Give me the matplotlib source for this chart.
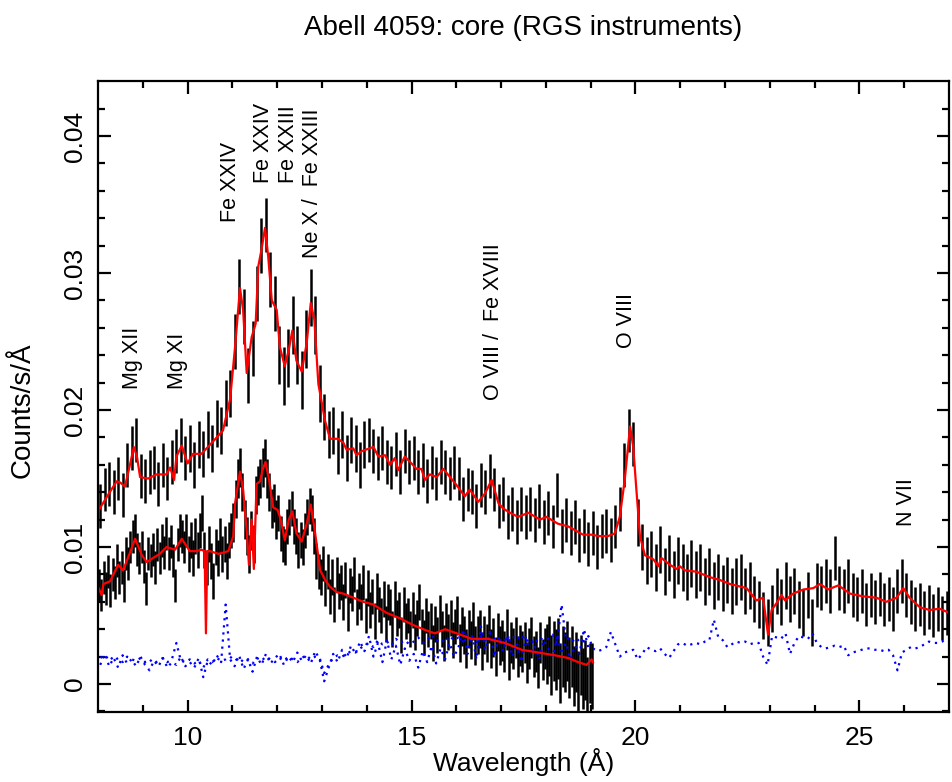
import numpy as np
import matplotlib
matplotlib.use("Agg")
import matplotlib.pyplot as plt

plt.rcParams['font.family'] = ['Liberation Sans', 'DejaVu Sans']

# ---- upper spectrum (first order), 0.1 A bins starting at 8.05 ----
up_start, up_step = 8.05, 0.1
up_counts = [
    0.0130, 0.0142, 0.0146, 0.0140, 0.0150, 0.0138, 0.0160, 0.0172, 0.0178, 0.0152,
    0.0148, 0.0155, 0.0158, 0.0146, 0.0160, 0.0150, 0.0162, 0.0170, 0.0178, 0.0165,
    0.0172, 0.0160, 0.0175, 0.0168, 0.0182, 0.0172, 0.0190, 0.0185, 0.0205, 0.0212,
    0.0250, 0.0290, 0.0268, 0.0225, 0.0245, 0.0285, 0.0320, 0.0335, 0.0295, 0.0278,
    0.0240, 0.0225, 0.0238, 0.0262, 0.0240, 0.0222, 0.0252, 0.0282, 0.0262, 0.0212,
    0.0195, 0.0182, 0.0185, 0.0170, 0.0182, 0.0165, 0.0178, 0.0172, 0.0160, 0.0175,
    0.0178, 0.0170, 0.0165, 0.0172, 0.0162, 0.0158, 0.0168, 0.0155, 0.0170, 0.0162,
    0.0165, 0.0155, 0.0160, 0.0148, 0.0158, 0.0150, 0.0162, 0.0155, 0.0150, 0.0158,
    0.0150, 0.0135, 0.0142, 0.0140, 0.0130, 0.0145, 0.0140, 0.0152, 0.0142, 0.0130,
    0.0135, 0.0122, 0.0128, 0.0118, 0.0128, 0.0122, 0.0128, 0.0120, 0.0130, 0.0118,
    0.0125, 0.0115, 0.0138, 0.0112, 0.0120, 0.0110, 0.0118, 0.0105, 0.0112, 0.0102,
    0.0110, 0.0100, 0.0108, 0.0112, 0.0105, 0.0115, 0.0128, 0.0160, 0.0185, 0.0175,
    0.0118, 0.0100, 0.0090, 0.0095, 0.0085, 0.0098, 0.0082, 0.0092, 0.0080, 0.0090,
    0.0085, 0.0078, 0.0088, 0.0080, 0.0085, 0.0075, 0.0082, 0.0072, 0.0078, 0.0070,
    0.0076, 0.0068, 0.0075, 0.0078, 0.0068, 0.0072, 0.0062, 0.0058, 0.0050, 0.0045,
    0.0055, 0.0068, 0.0060, 0.0072, 0.0062, 0.0068, 0.0058, 0.0052, 0.0065, 0.0045,
    0.0072, 0.0070, 0.0075, 0.0068, 0.0092, 0.0070, 0.0068, 0.0075, 0.0065, 0.0062,
    0.0068, 0.0058, 0.0065, 0.0060, 0.0066, 0.0058, 0.0062, 0.0055, 0.0068, 0.0075,
    0.0065, 0.0060, 0.0055, 0.0058, 0.0052, 0.0056, 0.0050, 0.0055, 0.0048, 0.0052,
]
# error half-size per 1 A stretch (8-9, 9-10, ... 26-27)
up_err_per_A = [0.0016, 0.0016, 0.0017, 0.0020, 0.0021, 0.0017, 0.0016, 0.0016, 0.0016,
                0.0016, 0.0016, 0.0016, 0.0017, 0.0017, 0.0017, 0.0017, 0.0016, 0.0016, 0.0016]

up_model_wl = [8.0, 8.15, 8.3, 8.42, 8.5, 8.6, 8.7, 8.8, 8.87, 8.94, 9.12, 9.31, 9.53, 9.61,
               9.70, 9.75, 9.87, 10.0, 10.12, 10.31, 10.54, 10.79, 10.95, 11.06, 11.17, 11.24,
               11.32, 11.43, 11.52, 11.58, 11.65, 11.73, 11.80, 11.88, 11.99, 12.06, 12.17,
               12.26, 12.34, 12.43, 12.55, 12.66, 12.75, 12.83, 12.92, 13.07, 13.18, 13.36,
               13.48, 13.55, 13.70, 13.77, 13.89, 14.15, 14.26, 14.41, 14.52, 14.63, 14.70,
               14.85, 15.00, 15.11, 15.22, 15.30, 15.41, 15.56, 15.71, 15.86, 16.01, 16.19,
               16.30, 16.49, 16.64, 16.79, 16.94, 17.05, 17.20, 17.38, 17.61, 17.87, 18.01,
               18.27, 18.50, 18.72, 18.83, 19.02, 19.17, 19.39, 19.54, 19.65, 19.76, 19.88,
               19.95, 20.02, 20.10, 20.21, 20.40, 20.51, 20.58, 20.77, 20.92, 20.99, 21.10,
               21.36, 21.66, 21.88, 22.11, 22.48, 22.70, 22.85, 22.96, 23.04, 23.15, 23.26,
               23.34, 23.52, 23.75, 23.97, 24.12, 24.30, 24.53, 24.79, 25.08, 25.38, 25.60,
               25.83, 25.98, 26.12, 26.35, 26.57, 26.79, 27.0]
up_model = [0.0126, 0.0134, 0.0142, 0.0148, 0.0147, 0.0144, 0.0158, 0.0173, 0.0166, 0.0151,
            0.0150, 0.0153, 0.0153, 0.0158, 0.0149, 0.0166, 0.0174, 0.0161, 0.0168, 0.0168,
            0.0176, 0.0185, 0.0208, 0.0246, 0.0289, 0.0273, 0.0227, 0.0253, 0.0263, 0.0305,
            0.0317, 0.0333, 0.0312, 0.0280, 0.0273, 0.0246, 0.0232, 0.0244, 0.0258, 0.0236,
            0.0228, 0.0249, 0.0278, 0.0266, 0.0219, 0.0192, 0.0179, 0.0179, 0.0176, 0.0171,
            0.0172, 0.0167, 0.0170, 0.0173, 0.0166, 0.0167, 0.0160, 0.0165, 0.0156, 0.0166,
            0.0161, 0.0157, 0.0157, 0.0149, 0.0153, 0.0151, 0.0157, 0.0151, 0.0145, 0.0137,
            0.0142, 0.0133, 0.0139, 0.0149, 0.0132, 0.0128, 0.0125, 0.0122, 0.0125, 0.0120,
            0.0122, 0.0117, 0.0115, 0.0111, 0.0109, 0.0109, 0.0108, 0.0108, 0.0110, 0.0122,
            0.0149, 0.0188, 0.0173, 0.0142, 0.0108, 0.0094, 0.0091, 0.0086, 0.0092, 0.0087,
            0.0084, 0.0086, 0.0083, 0.0082, 0.0078, 0.0076, 0.0073, 0.0070, 0.0061, 0.0063,
            0.0036, 0.0054, 0.0059, 0.0065, 0.0061, 0.0066, 0.0069, 0.0070, 0.0073, 0.0069,
            0.0072, 0.0066, 0.0064, 0.0063, 0.0060, 0.0063, 0.0070, 0.0063, 0.0056, 0.0054,
            0.0055, 0.0052]

# ---- lower spectrum (second order), 0.05 A bins starting at 8.025 ----
lo_start, lo_step = 8.025, 0.05
lo_counts = [
    0.0072, 0.0065, 0.0078, 0.0070, 0.0082, 0.0068, 0.0080, 0.0074, 0.0090, 0.0078,
    0.0085, 0.0072, 0.0095, 0.0088, 0.0100, 0.0108, 0.0112, 0.0098, 0.0092, 0.0100,
    0.0086, 0.0070, 0.0095, 0.0090, 0.0098, 0.0085, 0.0102, 0.0092, 0.0105, 0.0096,
    0.0110, 0.0095, 0.0104, 0.0090, 0.0072, 0.0102, 0.0112, 0.0108, 0.0100, 0.0112,
    0.0095, 0.0105, 0.0092, 0.0108, 0.0098, 0.0112, 0.0125, 0.0098, 0.0085, 0.0102,
    0.0090, 0.0075, 0.0100, 0.0092, 0.0108, 0.0095, 0.0102, 0.0090, 0.0105, 0.0112,
    0.0118, 0.0135, 0.0150, 0.0158, 0.0140, 0.0120, 0.0108, 0.0095, 0.0112, 0.0102,
    0.0138, 0.0145, 0.0150, 0.0158, 0.0165, 0.0150, 0.0140, 0.0128, 0.0132, 0.0120,
    0.0125, 0.0110, 0.0102, 0.0100, 0.0115, 0.0122, 0.0128, 0.0115, 0.0108, 0.0098,
    0.0105, 0.0100, 0.0112, 0.0122, 0.0130, 0.0125, 0.0108, 0.0090, 0.0082, 0.0078,
    0.0088, 0.0070, 0.0082, 0.0064, 0.0078, 0.0058, 0.0080, 0.0068, 0.0074, 0.0060,
    0.0076, 0.0052, 0.0072, 0.0066, 0.0080, 0.0056, 0.0068, 0.0060, 0.0074, 0.0050,
    0.0070, 0.0054, 0.0064, 0.0046, 0.0068, 0.0058, 0.0050, 0.0062, 0.0044, 0.0060,
    0.0056, 0.0040, 0.0062, 0.0048, 0.0054, 0.0036, 0.0058, 0.0046, 0.0050, 0.0040,
    0.0054, 0.0038, 0.0048, 0.0060, 0.0042, 0.0034, 0.0050, 0.0040, 0.0046, 0.0030,
    0.0044, 0.0036, 0.0052, 0.0040, 0.0030, 0.0046, 0.0038, 0.0048, 0.0032, 0.0042,
    0.0050, 0.0030, 0.0042, 0.0036, 0.0026, 0.0040, 0.0032, 0.0046, 0.0028, 0.0036,
    0.0040, 0.0024, 0.0036, 0.0030, 0.0044, 0.0026, 0.0034, 0.0020, 0.0038, 0.0028,
    0.0032, 0.0024, 0.0040, 0.0018, 0.0030, 0.0026, 0.0034, 0.0020, 0.0028, 0.0024,
    0.0030, 0.0016, 0.0026, 0.0034, 0.0020, 0.0024, 0.0012, 0.0030, 0.0018, 0.0026,
    0.0022, 0.0028, 0.0014, 0.0024, 0.0018, 0.0026, 0.0008, 0.0020, 0.0016, 0.0024,
    0.0012, 0.0020, 0.0006, 0.0016, 0.0002, 0.0014, 0.0004, 0.0010, -0.0002, 0.0008,
    0.0006,
]
lo_err_per_A = [0.0012, 0.0012, 0.0013, 0.0014, 0.0013, 0.0013, 0.0013, 0.0013,
                0.0014, 0.0015, 0.0022, 0.0024]

lo_model_wl = [8.0, 8.08, 8.12, 8.27, 8.45, 8.56, 8.68, 8.83, 8.98, 9.09, 9.23, 9.38, 9.53,
               9.72, 9.87, 10.05, 10.20, 10.31, 10.38, 10.41, 10.44, 10.50, 10.69, 10.91,
               11.02, 11.06, 11.17, 11.24, 11.32, 11.37, 11.43, 11.48, 11.54, 11.62, 11.67,
               11.74, 11.82, 11.91, 12.01, 12.08, 12.17, 12.26, 12.34, 12.43, 12.55, 12.66,
               12.75, 12.84, 12.96, 13.07, 13.18, 13.33, 13.48, 13.70, 13.92, 14.15, 14.44,
               14.74, 15.04, 15.34, 15.52, 15.75, 16.01, 16.34, 16.71, 17.08, 17.46, 17.83,
               18.20, 18.50, 18.72, 18.91, 19.02, 19.05]
lo_model = [0.0071, 0.0065, 0.0073, 0.0075, 0.0087, 0.0083, 0.0093, 0.0106, 0.0094, 0.0089,
            0.0092, 0.0095, 0.0100, 0.0098, 0.0106, 0.0097, 0.0097, 0.0098, 0.0097, 0.0037,
            0.0097, 0.0097, 0.0095, 0.0097, 0.0108, 0.0132, 0.0155, 0.0142, 0.0112, 0.0087,
            0.0120, 0.0084, 0.0146, 0.0148, 0.0156, 0.0162, 0.0149, 0.0129, 0.0127, 0.0120,
            0.0105, 0.0120, 0.0126, 0.0110, 0.0104, 0.0117, 0.0131, 0.0112, 0.0083, 0.0076,
            0.0071, 0.0067, 0.0066, 0.0063, 0.0060, 0.0058, 0.0052, 0.0048, 0.0043, 0.0039,
            0.0037, 0.0040, 0.0037, 0.0033, 0.0033, 0.0030, 0.0025, 0.0023, 0.0021, 0.0019,
            0.0016, 0.0014, 0.0018, 0.0016]

# ---- backgrounds (blue dotted), 0.1 A bins ----
bg_up_start = 8.05
bg_up = [
    0.0020, 0.0018, 0.0021, 0.0017, 0.0019, 0.0016, 0.0020, 0.0018, 0.0017, 0.0019,
    0.0016, 0.0018, 0.0015, 0.0017, 0.0019, 0.0016, 0.0018, 0.0030, 0.0017, 0.0016,
    0.0018, 0.0015, 0.0017, 0.0012, 0.0018, 0.0016, 0.0019, 0.0017, 0.0018, 0.0020,
    0.0017, 0.0019, 0.0016, 0.0018, 0.0015, 0.0019, 0.0017, 0.0020, 0.0018, 0.0016,
    0.0019, 0.0017, 0.0020, 0.0018, 0.0016, 0.0019, 0.0021, 0.0018, 0.0020, 0.0019,
    0.0008, 0.0014, 0.0019, 0.0021, 0.0020, 0.0022, 0.0024, 0.0023, 0.0026, 0.0028,
    0.0030, 0.0027, 0.0032, 0.0029, 0.0031, 0.0028, 0.0033, 0.0030, 0.0032, 0.0029,
    0.0031, 0.0034, 0.0030, 0.0032, 0.0036, 0.0031, 0.0033, 0.0030, 0.0035, 0.0032,
    0.0034, 0.0031, 0.0036, 0.0033, 0.0030, 0.0035, 0.0032, 0.0037, 0.0033, 0.0031,
    0.0034, 0.0030, 0.0035, 0.0032, 0.0036, 0.0031, 0.0033, 0.0029, 0.0034, 0.0032,
    0.0033, 0.0036, 0.0030, 0.0058, 0.0032, 0.0034, 0.0030, 0.0033, 0.0031, 0.0035,
    0.0026, 0.0024, 0.0025, 0.0027, 0.0038, 0.0029, 0.0020, 0.0023, 0.0024, 0.0025,
    0.0018, 0.0022, 0.0027, 0.0025, 0.0024, 0.0026, 0.0022, 0.0019, 0.0024, 0.0029,
    0.0030, 0.0028, 0.0029, 0.0030, 0.0029, 0.0031, 0.0032, 0.0047, 0.0034, 0.0032,
    0.0027, 0.0029, 0.0031, 0.0030, 0.0031, 0.0029, 0.0030, 0.0030, 0.0020, 0.0014,
    0.0035, 0.0034, 0.0033, 0.0037, 0.0022, 0.0030, 0.0035, 0.0034, 0.0033, 0.0037,
    0.0030, 0.0027, 0.0026, 0.0027, 0.0028, 0.0027, 0.0028, 0.0021, 0.0023, 0.0024,
    0.0025, 0.0026, 0.0026, 0.0025, 0.0025, 0.0024, 0.0025, 0.0021, 0.0010, 0.0023,
    0.0025, 0.0027, 0.0026, 0.0027, 0.0029, 0.0031, 0.0030, 0.0030, 0.0031, 0.0034,
]
bg_lo_start = 8.05
bg_lo = [
    0.0014, 0.0022, 0.0013, 0.0019, 0.0012, 0.0021, 0.0015, 0.0018, 0.0013, 0.0020,
    0.0014, 0.0010, 0.0017, 0.0013, 0.0019, 0.0012, 0.0016, 0.0014, 0.0020, 0.0013,
    0.0016, 0.0012, 0.0019, 0.0005, 0.0017, 0.0014, 0.0021, 0.0016, 0.0058, 0.0018,
    0.0013, 0.0021, 0.0011, 0.0018, 0.0009, 0.0020, 0.0014, 0.0022, 0.0015, 0.0019,
    0.0022, 0.0014, 0.0020, 0.0016, 0.0023, 0.0017, 0.0021, 0.0015, 0.0024, 0.0018,
    0.0002, 0.0012, 0.0022, 0.0016, 0.0025, 0.0019, 0.0028, 0.0022, 0.0031, 0.0024,
    0.0035, 0.0020, 0.0030, 0.0016, 0.0032, 0.0018, 0.0028, 0.0014, 0.0026, 0.0017,
    0.0022, 0.0012, 0.0024, 0.0016, 0.0028, 0.0015, 0.0026, 0.0018, 0.0030, 0.0020,
    0.0027, 0.0040, 0.0022, 0.0036, 0.0018, 0.0042, 0.0025, 0.0038, 0.0020, 0.0034,
    0.0024, 0.0036, 0.0020, 0.0030, 0.0016, 0.0034, 0.0022, 0.0028, 0.0018, 0.0032,
    0.0026, 0.0020, 0.0034, 0.0024, 0.0030, 0.0018, 0.0028, 0.0022, 0.0040, 0.0026,
]

# line identifications: (label, wavelength, bottom of text in counts)
line_labels = ["Mg XII", "Mg XI", "Fe XXIV", "Fe XXIV", "Fe XXIII", "Ne X /  Fe XXIII",
               "O VIII /  Fe XVIII", "O VIII", "N VII"]
line_wl = [8.78, 9.78, 10.95, 11.70, 12.25, 12.80, 16.84, 19.80, 26.04]
line_y = [0.0215, 0.0215, 0.0337, 0.0366, 0.0366, 0.0311, 0.0207, 0.0245, 0.0115]


def bins(start, step, n):
    return start + step * np.arange(n)


fig = plt.figure(figsize=(9.52, 7.82), dpi=100)
ax = fig.add_axes([98 / 952, 70 / 782, 851 / 952, 631 / 782])

# upper spectrum
up_x = bins(up_start, up_step, len(up_counts))
up_y = np.array(up_counts)
up_e = np.array(up_err_per_A)[np.clip((up_x - 8).astype(int), 0, len(up_err_per_A) - 1)]
ax.vlines(up_x, up_y - up_e, up_y + up_e, color='black', lw=1.8)

# lower spectrum
lo_x = bins(lo_start, lo_step, len(lo_counts))
lo_y = np.array(lo_counts)
lo_e = np.array(lo_err_per_A)[np.clip((lo_x - 8).astype(int), 0, len(lo_err_per_A) - 1)]
ax.vlines(lo_x, lo_y - lo_e, lo_y + lo_e, color='black', lw=1.8)

# backgrounds
ax.plot(bins(bg_up_start, 0.1, len(bg_up)), bg_up, color='blue', ls=(0, (1, 2.2)), lw=1.6)
ax.plot(bins(bg_lo_start, 0.1, len(bg_lo)), bg_lo, color='blue', ls=(0, (1, 2.2)), lw=1.6)

# models
ax.plot(up_model_wl, up_model, color='red', lw=1.6)
ax.plot(lo_model_wl, lo_model, color='red', lw=1.6)

for lab, wl, yy in zip(line_labels, line_wl, line_y):
    ax.text(wl, yy, lab, rotation=90, ha='center', va='bottom', fontsize=15.5)

ax.set_xlim(8, 27)
ax.set_ylim(-0.00204, 0.04401)
ax.set_xticks([10, 15, 20, 25])
ax.set_xticks(np.arange(9, 27), minor=True)
ax.set_yticks([0, 0.01, 0.02, 0.03, 0.04])
ax.set_yticklabels(['0', '0.01', '0.02', '0.03', '0.04'])
ax.set_yticks(np.arange(-0.002, 0.044, 0.002), minor=True)
ax.tick_params(which='both', direction='in', top=True, right=True, width=1.6,
               labelsize=19)
ax.tick_params(which='major', length=9)
ax.tick_params(which='minor', length=5)
ax.tick_params(axis='x', pad=10)
ax.tick_params(axis='y', labelrotation=90, pad=8)
for lbl in ax.get_yticklabels():
    lbl.set_va('center')
for sp in ax.spines.values():
    sp.set_linewidth(1.6)

ax.set_xlabel('Wavelength (Å)', fontsize=19)
ax.set_ylabel('Counts/s/Å', fontsize=20)
ax.xaxis.set_label_coords(0.5, (712 - 748) / 631)
ax.yaxis.set_label_coords((36 - 98) / 851, (712 - 410) / 631)
fig.text(0.549, 1 - 28 / 782, 'Abell 4059: core (RGS instruments)', ha='center',
         va='center', fontsize=20)

fig.savefig('out.png', dpi=100)
